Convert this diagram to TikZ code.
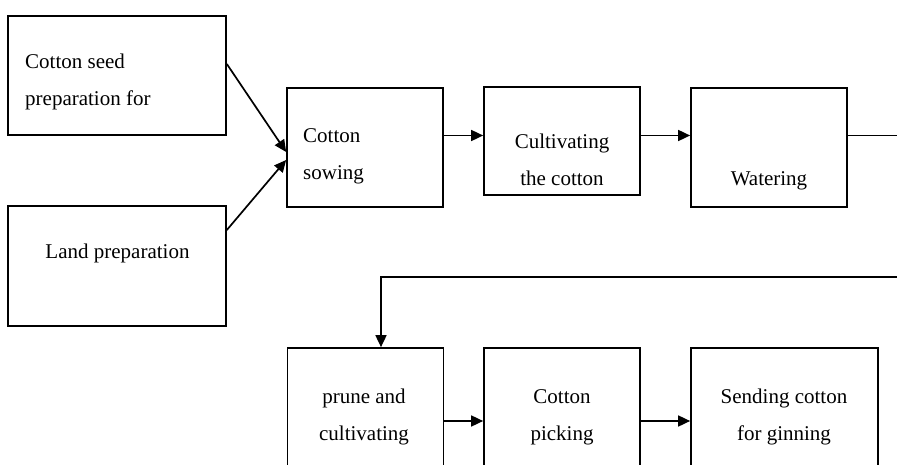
\documentclass[tikz,border=0pt]{standalone}
\usepackage{fontspec}
\setmainfont{Liberation Serif}
\usepackage{tikz}
\usetikzlibrary{arrows.meta,positioning}
\tikzset{
	stage/.style = {rectangle, draw=black, line width=1.7pt, inner sep=0pt,
		minimum width=156pt, minimum height=119pt},% process box
	stage_w/.style = {stage, minimum width=218pt},% wide input box
	stage_txt/.style = {align=center, inner sep=0pt,
		font=\fontsize{21}{37}\selectfont},% box caption
	link/.style = {line width=1.7pt}% connector
}

\begin{document}
\begin{tikzpicture}[x=1pt,y=-1pt,>={Triangle[length=12pt,width=11pt]}]
\useasboundingbox (0,0) rectangle (897,465);
\clip (0,0) rectangle (897,465);
% first row
\node [stage_w] (seed) at (117,75.5) {};
\node [stage_txt, align=left, anchor=west] (seed_t) at (25,81.5) {Cotton seed\\preparation for};
\node [stage_w, minimum height=120pt] (land) at (117,266) {};
\node [stage_txt] (land_t) at (117.5,253) {Land preparation};
\node [stage] (sow) at (365,147.5) {};
\node [stage_txt, align=left, anchor=west] (sow_t) at (303,156.5) {Cotton\\sowing};
\node [stage, minimum height=108pt] (cult) at (562,141) {};
\node [stage_txt] (cult_t) at (562,160) {Cultivating\\the cotton};
\node [stage] (water) at (769,147.5) {};
\node [stage_txt] (water_t) at (769,181) {Watering};
% second row (cut at the bottom)
\node [stage, minimum height=146pt] (prune) at (365.5,421) {};
\node [stage_txt] (prune_t) at (364,417) {prune and\\cultivating};
\node [stage, minimum height=146pt] (pick) at (562,421) {};
\node [stage_txt] (pick_t) at (562,417) {Cotton\\picking};
\node [stage, minimum height=146pt, minimum width=187pt] (send) at (784.5,421) {};
\node [stage_txt] (send_t) at (784,417) {Sending cotton\\for ginning};
\coordinate (out_r) at (897,135.5);
\coordinate (in_r) at (897,277);
% connectors
\draw [link,->] ([yshift=11.5pt]seed.east) -- ([yshift=-4.5pt]sow.west);
\draw [link,->] ([yshift=36pt]land.east) -- ([yshift=-12.5pt]sow.west);
\draw [link,->] ([yshift=12pt]sow.east) -- ([yshift=5.5pt]cult.west);
\draw [link,->] ([yshift=5.5pt]cult.east) -- ([yshift=12pt]water.west);
\draw [link] ([yshift=12pt]water.east) -- (out_r);
\draw [link,->] (in_r) -| ([xshift=15.5pt]prune.north);
\draw [link,->] (prune) -- (pick);
\draw [link,->] (pick) -- (send);
\end{tikzpicture}
\end{document}
